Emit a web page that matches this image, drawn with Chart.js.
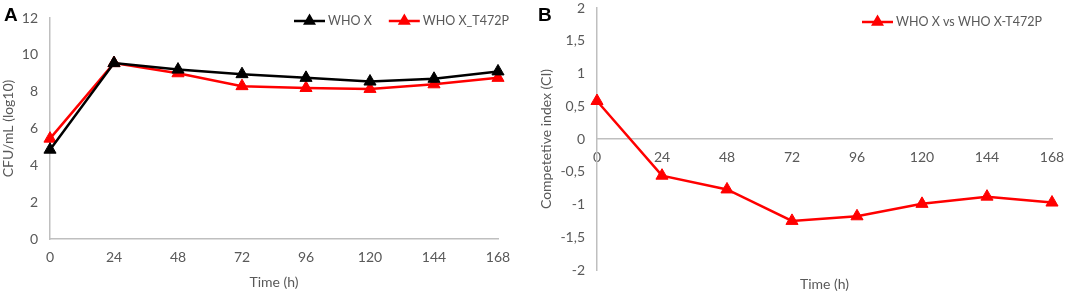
<!DOCTYPE html>
<html>
<head>
<meta charset="utf-8">
<script src="https://cdn.jsdelivr.net/npm/chart.js@4.4.0/dist/chart.umd.min.js"></script>
<style>
	body { margin: 0; background: #fff; }
	#wrap { position: relative; width: 1065px; height: 293px; }
	canvas { position: absolute; top: 0; }
	.panel { position: absolute; top: 5px; font: bold 19px/1 "Liberation Sans", Arial, sans-serif; color: #000; }
</style>
</head>
<body>
<div id="wrap">
	<canvas id="chartA" width="530" height="293" style="left:0"></canvas>
	<canvas id="chartB" width="535" height="293" style="left:530px"></canvas>
	<div class="panel" style="left:4px">A</div>
	<div class="panel" style="left:538px">B</div>
</div>
<script>
// data
const hours = ['0', '24', '48', '72', '96', '120', '144', '168'];
const whoX = [4.85, 9.55, 9.2, 8.95, 8.75, 8.55, 8.7, 9.1];
const whoXT472P = [5.45, 9.55, 9.0, 8.3, 8.2, 8.15, 8.4, 8.75];
const competitiveIndex = [0.58, -0.56, -0.77, -1.25, -1.18, -0.99, -0.88, -0.97];

const GREY_TEXT = '#595959';
const GREY_AXIS = '#bfbfbf';
const FONT = { family: 'Lato', size: 14 };

// legend drawn as line + triangle, like the Excel one
const lineLegend = {
	id: 'lineLegend',
	afterDraw(chart, args, opts) {
		const ctx = chart.ctx;
		let x = opts.x;
		const y = opts.y;
		chart.data.datasets.forEach((ds) => {
			ctx.save();
			ctx.strokeStyle = ds.borderColor;
			ctx.lineWidth = 2.5;
			ctx.beginPath();
			ctx.moveTo(x, y);
			ctx.lineTo(x + 31, y);
			ctx.stroke();
			ctx.fillStyle = ds.pointBackgroundColor;
			Chart.helpers.drawPoint(ctx, { pointStyle: 'triangle', radius: 5, rotation: 0, borderWidth: 1 }, x + 15.5, y);
			ctx.font = `12.5px ${FONT.family}`;
			ctx.fillStyle = GREY_TEXT;
			ctx.textBaseline = 'middle';
			ctx.fillText(ds.label, x + 34, y);
			x += 34 + ctx.measureText(ds.label).width + 17;
			ctx.restore();
		});
	},
};

// the zero-line x axis otherwise spans the whole canvas
const clipZeroAxis = {
	id: 'clipZeroAxis',
	beforeDraw(chart) {
		const s = chart.scales.x;
		s.left = chart.chartArea.left;
		s.right = chart.chartArea.right;
	},
};

function lineSet(label, data, color) {
	return {
		label: label,
		data: data,
		borderColor: color,
		backgroundColor: color,
		pointBackgroundColor: color,
		pointBorderColor: color,
		borderWidth: 2.5,
		pointStyle: 'triangle',
		pointRadius: 7,
		pointBorderWidth: 1,
		tension: 0,
	};
}

// fixed sizes so the plot box lands where the figure has it
const fixY = (w) => (s) => { s.width = w; s.paddingTop = 0; s.paddingBottom = 0; };
const fixX = (h) => (s) => { s.height = h; s.paddingLeft = 0; s.paddingRight = 0; };

new Chart(document.getElementById('chartA').getContext('2d'), {
	type: 'line',
	data: {
		labels: hours,
		datasets: [
			lineSet('WHO X', whoX, '#000000'),
			lineSet('WHO X_T472P', whoXT472P, '#ff0000'),
		],
	},
	options: {
		responsive: false,
		animation: false,
		layout: { padding: { left: 0, top: 18, right: 32, bottom: 0 } },
		plugins: {
			legend: { display: false },
			tooltip: { enabled: false },
			lineLegend: { x: 294, y: 21 },
		},
		scales: {
			x: {
				type: 'category',
				offset: false,
				grid: { display: false, drawTicks: false },
				border: { color: GREY_AXIS, width: 1.5 },
				ticks: { color: GREY_TEXT, font: FONT, padding: 10, maxRotation: 0, autoSkip: false },
				title: { display: true, text: 'Time (h)', color: GREY_TEXT, font: FONT, padding: { top: 0, bottom: 2 } },
				afterFit: fixX(54),
			},
			y: {
				min: 0,
				max: 12,
				grid: { display: false, drawTicks: false },
				border: { color: GREY_AXIS, width: 1.5 },
				ticks: { stepSize: 2, color: GREY_TEXT, font: FONT, padding: 12 },
				title: { display: true, text: 'CFU/mL (log10)', color: GREY_TEXT, font: FONT, padding: 0 },
				afterFit: fixY(50),
			},
		},
	},
	plugins: [lineLegend],
});

new Chart(document.getElementById('chartB').getContext('2d'), {
	type: 'line',
	data: {
		labels: hours,
		datasets: [
			lineSet('WHO X vs WHO X-T472P', competitiveIndex, '#ff0000'),
		],
	},
	options: {
		responsive: false,
		animation: false,
		layout: { padding: { left: 0, top: 7, right: 13, bottom: 0 } },
		plugins: {
			legend: { display: false },
			tooltip: { enabled: false },
			lineLegend: { x: 332, y: 22 },
		},
		scales: {
			x: {
				type: 'category',
				position: { y: 0 },
				offset: false,
				grid: { display: false, drawTicks: false },
				border: { color: GREY_AXIS, width: 1.5 },
				ticks: { color: GREY_TEXT, font: FONT, padding: 10, maxRotation: 0, autoSkip: false },
				afterFit: fixX(0),
			},
			x2: {
				type: 'category',
				position: 'bottom',
				offset: false,
				grid: { display: false, drawTicks: false },
				border: { display: false },
				ticks: { display: false },
				title: { display: true, text: 'Time (h)', color: GREY_TEXT, font: FONT, padding: 0 },
				afterFit: fixX(23),
			},
			y: {
				min: -2,
				max: 2,
				grid: { display: false, drawTicks: false },
				border: { color: GREY_AXIS, width: 1.5 },
				ticks: {
					stepSize: 0.5,
					color: GREY_TEXT,
					font: FONT,
					padding: 12,
					callback: (v) => String(v).replace('.', ','),
				},
				title: { display: true, text: 'Competetive index (CI)', color: GREY_TEXT, font: FONT, padding: { top: 8, bottom: 0 } },
				afterFit: fixY(67),
			},
		},
	},
	plugins: [lineLegend, clipZeroAxis],
});
</script>
</body>
</html>
